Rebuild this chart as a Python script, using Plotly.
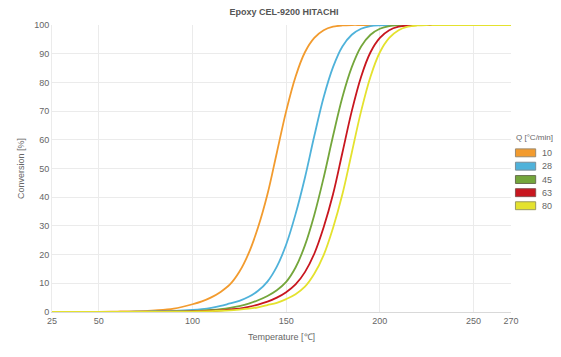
import plotly.graph_objects as go

# ---- data ----
temps = [25, 50, 60, 70, 80, 90, 100, 105, 110, 115, 120, 125, 130, 135, 140, 145,
         150, 155, 160, 165, 170, 175, 180, 185, 190, 195, 200, 205, 210, 215, 220,
         225, 230, 240, 250, 260, 270]

q10 = [0, 0.05, 0.15, 0.3, 0.6, 1.2, 2.7, 3.7, 5.1, 7.0, 9.6, 14.0, 20.5, 29.5, 41, 55.5,
       70, 82, 90.5, 95.5, 98.2, 99.4, 99.85, 100, 100, 100, 100, 100, 100, 100, 100,
       100, 100, 100, 100, 100, 100]
q28 = [0, 0.02, 0.04, 0.08, 0.17, 0.35, 0.7, 1.0, 1.45, 2.1, 3.0, 3.9, 5.3, 7.4, 10.6, 15.8,
       23.5, 34.1, 46.8, 61.3, 74.8, 85.3, 92.5, 96.6, 98.7, 99.6, 99.9, 100, 100, 100, 100,
       100, 100, 100, 100, 100, 100]
q45 = [0, 0.01, 0.02, 0.05, 0.09, 0.18, 0.33, 0.48, 0.7, 1.0, 1.45, 2.05, 2.9, 4.1, 5.6, 7.6,
       10.5, 15.5, 23.2, 33.8, 46.8, 61.3, 74.8, 85.3, 92.5, 96.6, 98.7, 99.6, 99.9, 100, 100,
       100, 100, 100, 100, 100, 100]
q63 = [0, 0.01, 0.02, 0.03, 0.06, 0.11, 0.2, 0.3, 0.43, 0.6, 0.88, 1.2, 1.8, 2.6, 3.6, 5.0,
       6.9, 9.6, 13.9, 20.3, 29.5, 41, 55.5, 70, 82, 90.5, 95.5, 98.2, 99.4, 99.85, 100,
       100, 100, 100, 100, 100, 100]
q80 = [0, 0.0, 0.01, 0.02, 0.04, 0.08, 0.15, 0.2, 0.3, 0.43, 0.6, 0.85, 1.15, 1.65, 2.4, 3.2,
       4.5, 6.2, 8.8, 13.3, 19.8, 29.3, 41, 55.5, 70, 82, 90.5, 95.5, 98.2, 99.4, 99.85,
       100, 100, 100, 100, 100, 100]

series_names = ["10", "28", "45", "63", "80"]
series_values = [q10, q28, q45, q63, q80]
colors = ["#F29B2E", "#4FB2DA", "#74A63B", "#C8161F", "#E4E22E"]
borders = ["#9a8a70", "#7a8e98", "#6a7050", "#8a5050", "#9a9a60"]

x_ticks = [25, 50, 100, 150, 200, 250, 270]
y_ticks = [0, 10, 20, 30, 40, 50, 60, 70, 80, 90, 100]

FONT = "Liberation Sans, Arial, sans-serif"
GREY = "#666666"

# the page body adds an 8px margin; work in screenshot pixels and shift
OFF = 8
W, H = 561 - OFF, 357 - OFF
# plot area in screenshot pixels
L, R, T, B = 46, 511, 21.7, 312

fig = go.Figure()
for name, vals, col in zip(series_names, series_values, colors):
    fig.add_trace(go.Scatter(x=temps, y=vals, mode="lines", name=name,
                             line=dict(color=col, width=1.8, shape="spline", smoothing=1.0),
                             showlegend=False, hoverinfo="x+y"))


def px_to_paper_x(px):
    return (px - L) / (R - L)


def px_to_paper_y(py):
    return (B - py) / (B - T)


shapes = []
annotations = []
annotations.append(dict(text="Q [°C/min]", xref="paper", yref="paper",
                        x=px_to_paper_x(514.5), y=px_to_paper_y(135), xanchor="left", yanchor="middle",
                        showarrow=False, font=dict(family=FONT, size=8, color=GREY)))
row_tops = [147, 160.5, 174, 187.3, 200.5]
for name, col, bcol, top in zip(series_names, colors, borders, row_tops):
    shapes.append(dict(type="rect", xref="paper", yref="paper",
                       x0=px_to_paper_x(515.5), x1=px_to_paper_x(536),
                       y0=px_to_paper_y(top), y1=px_to_paper_y(top + 8),
                       fillcolor=col, line=dict(color=bcol, width=1)))
    annotations.append(dict(text=name, xref="paper", yref="paper",
                            x=px_to_paper_x(540), y=px_to_paper_y(top + 4),
                            xanchor="left", yanchor="middle", showarrow=False,
                            font=dict(family=FONT, size=9, color=GREY)))

fig.update_layout(
    width=W, height=H,
    margin=dict(l=L - OFF, r=W - (R - OFF), t=T - OFF, b=H - (B - OFF), pad=0),
    paper_bgcolor="white", plot_bgcolor="white",
    font=dict(family=FONT, size=9, color=GREY),
    title=dict(text="<b>Epoxy CEL-9200 HITACHI</b>", x=(284 - OFF) / W, xref="container",
               y=1 - (12 - OFF) / H, yref="container", yanchor="middle",
               font=dict(family=FONT, size=9, color="#555555")),
    xaxis=dict(range=[25, 270], tickmode="array", tickvals=x_ticks,
               ticktext=[str(v) for v in x_ticks],
               showgrid=True, gridcolor="#ebebeb", gridwidth=1,
               showline=True, linecolor="#d9d9d9", linewidth=1,
               zeroline=False, ticks="", ticklen=0,
               tickfont=dict(family=FONT, size=9, color=GREY),
               title=dict(text="Temperature [℃]", standoff=8,
                          font=dict(family=FONT, size=9, color=GREY))),
    yaxis=dict(range=[0, 100], tickmode="array", tickvals=y_ticks,
               showgrid=True, gridcolor="#ebebeb", gridwidth=1,
               showline=True, linecolor="#ebebeb", linewidth=1,
               zeroline=False, ticks="", ticklen=6, tickcolor="white",
               tickfont=dict(family=FONT, size=9, color=GREY),
               title=dict(text="Conversion [%]", standoff=8,
                          font=dict(family=FONT, size=9, color=GREY))),
    shapes=shapes,
    annotations=annotations,
    showlegend=False,
)

fig.write_html("out.html")
